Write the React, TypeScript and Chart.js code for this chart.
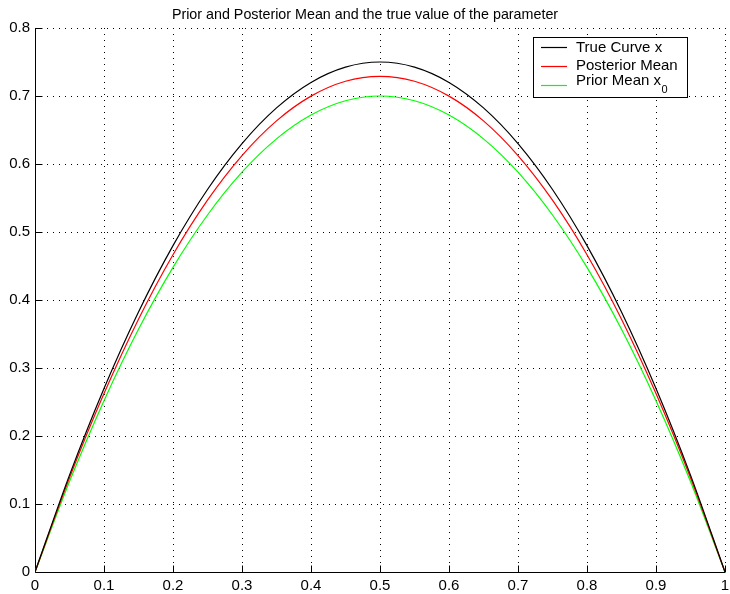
import React, { useEffect, useRef } from "react";
import { Chart, registerables } from "chart.js";

Chart.register(...registerables);

const titleText = "Prior and Posterior Mean and the true value of the parameter";
const xValues = [0, 0.05, 0.1, 0.15, 0.2, 0.25, 0.3, 0.35, 0.4, 0.45, 0.5, 0.55, 0.6, 0.65, 0.7, 0.75, 0.8, 0.85, 0.9, 0.95, 1];
const trueCurve = [0, 0.1425, 0.27, 0.3825, 0.48, 0.5625, 0.63, 0.6825, 0.72, 0.7425, 0.75, 0.7425, 0.72, 0.6825, 0.63, 0.5625, 0.48, 0.3825, 0.27, 0.1425, 0];
const posteriorMean = [0, 0.1385, 0.2624, 0.3718, 0.4666, 0.5468, 0.6124, 0.6634, 0.6998, 0.7217, 0.729, 0.7217, 0.6998, 0.6634, 0.6124, 0.5468, 0.4666, 0.3718, 0.2624, 0.1385, 0];
const priorMean = [0, 0.133, 0.252, 0.357, 0.448, 0.525, 0.588, 0.637, 0.672, 0.693, 0.7, 0.693, 0.672, 0.637, 0.588, 0.525, 0.448, 0.357, 0.252, 0.133, 0];
const xTicks = [0, 0.1, 0.2, 0.3, 0.4, 0.5, 0.6, 0.7, 0.8, 0.9, 1];
const yTicks = [0, 0.1, 0.2, 0.3, 0.4, 0.5, 0.6, 0.7, 0.8];
const legendLabels = ["True Curve x", "Posterior Mean", "Prior Mean x"];
const seriesColors = ["#000000", "#ff0000", "#00ff00"];

const FONT = "'Liberation Sans', Arial, Helvetica, sans-serif";

const matlabPlugin = {
  id: "matlab",
  beforeDatasetsDraw(chart: any) {
    const { ctx, chartArea, scales } = chart;
    const xs = scales.x, ys = scales.y;
    ctx.save();
    ctx.strokeStyle = "#000";
    ctx.lineWidth = 1;
    ctx.setLineDash([1, 5]);
    xTicks.forEach((v) => {
      if (v === 0) return;
      const px = Math.round(xs.getPixelForValue(v)) + 0.5;
      ctx.beginPath();
      ctx.moveTo(px, chartArea.top);
      ctx.lineTo(px, chartArea.bottom);
      ctx.stroke();
    });
    yTicks.forEach((v) => {
      if (v === 0) return;
      const py = Math.round(ys.getPixelForValue(v)) + 0.5;
      ctx.beginPath();
      ctx.moveTo(chartArea.left, py);
      ctx.lineTo(chartArea.right, py);
      ctx.stroke();
    });
    ctx.setLineDash([]);
    const x0 = Math.round(xs.getPixelForValue(0)) + 0.5;
    const y0 = Math.round(ys.getPixelForValue(0)) + 0.5;
    ctx.beginPath();
    ctx.moveTo(x0, chartArea.top);
    ctx.lineTo(x0, y0);
    ctx.lineTo(chartArea.right, y0);
    ctx.stroke();
    xTicks.forEach((v) => {
      const px = Math.round(xs.getPixelForValue(v)) + 0.5;
      ctx.beginPath();
      ctx.moveTo(px, y0);
      ctx.lineTo(px, y0 - 7);
      ctx.stroke();
    });
    yTicks.forEach((v) => {
      const py = Math.round(ys.getPixelForValue(v)) + 0.5;
      ctx.beginPath();
      ctx.moveTo(x0, py);
      ctx.lineTo(x0 + 7, py);
      ctx.stroke();
    });
    ctx.restore();
  },
  afterDraw(chart: any) {
    const { ctx } = chart;
    ctx.save();
    ctx.fillStyle = "#000";
    ctx.font = `14.3px ${FONT}`;
    ctx.textAlign = "center";
    ctx.textBaseline = "alphabetic";
    ctx.fillText(titleText, 365, 18.5);
    const bx = 533.5, by = 37.5, bw = 154, bh = 60;
    ctx.fillStyle = "#fff";
    ctx.fillRect(bx, by, bw, bh);
    ctx.strokeStyle = "#000";
    ctx.lineWidth = 1;
    ctx.strokeRect(bx, by, bw, bh);
    const lineRows = [47.5, 66.5, 85.5];
    const textRows = [52, 69.5, 84.5];
    ctx.textAlign = "left";
    legendLabels.forEach((lab, i) => {
      ctx.strokeStyle = seriesColors[i];
      ctx.lineWidth = 1.2;
      ctx.beginPath();
      ctx.moveTo(541, lineRows[i]);
      ctx.lineTo(567, lineRows[i]);
      ctx.stroke();
      ctx.fillStyle = "#000";
      ctx.font = `15px ${FONT}`;
      ctx.fillText(lab, 576, textRows[i]);
      if (i === 2) {
        const w = ctx.measureText(lab).width;
        ctx.font = `11px ${FONT}`;
        ctx.fillText("0", 576 + w + 0.5, 93);
      }
    });
    ctx.restore();
  },
};

export default function App() {
  const ref = useRef<HTMLCanvasElement>(null);
  useEffect(() => {
    document.body.style.margin = "0";
    const canvas = ref.current!;
    const mk = (d: number[]) => xValues.map((x, i) => ({ x, y: d[i] }));
    const chart = new Chart(canvas, {
      type: "line",
      data: {
        datasets: [
          { label: legendLabels[0], data: mk(trueCurve), borderColor: seriesColors[0], borderWidth: 1.2, pointRadius: 0, cubicInterpolationMode: "monotone" },
          { label: legendLabels[1], data: mk(posteriorMean), borderColor: seriesColors[1], borderWidth: 1.2, pointRadius: 0, cubicInterpolationMode: "monotone" },
          { label: legendLabels[2], data: mk(priorMean), borderColor: seriesColors[2], borderWidth: 1.2, pointRadius: 0, cubicInterpolationMode: "monotone" },
        ],
      },
      options: {
        animation: false,
        responsive: false,
        devicePixelRatio: 1,
        layout: { padding: { top: 28, right: 5, left: 0, bottom: 0 } },
        plugins: { legend: { display: false }, title: { display: false }, tooltip: { enabled: false } },
        scales: {
          x: {
            type: "linear",
            min: 0,
            max: 1,
            grid: { display: false, drawTicks: false },
            border: { display: false },
            afterFit: (s: any) => { s.height = 22; s.paddingLeft = 0; s.paddingRight = 0; },
            afterBuildTicks: (s: any) => { s.ticks = xTicks.map((v) => ({ value: v })); },
            ticks: { color: "#000", font: { family: FONT, size: 15 }, padding: 5, maxRotation: 0, autoSkip: false, callback: (v: any) => String(Number(v)) },
          },
          y: {
            type: "linear",
            min: 0,
            max: 0.8,
            grid: { display: false, drawTicks: false },
            border: { display: false },
            afterFit: (s: any) => { s.width = 35; s.paddingTop = 0; s.paddingBottom = 0; },
            afterBuildTicks: (s: any) => { s.ticks = yTicks.map((v) => ({ value: v })); },
            ticks: { color: "#000", font: { family: FONT, size: 15 }, padding: 5, autoSkip: false, callback: (v: any) => String(Number(v)) },
          },
        },
      } as any,
      plugins: [matlabPlugin],
    });
    return () => chart.destroy();
  }, []);
  return <canvas ref={ref} width={730} height={594} style={{ display: "block", width: 730, height: 594 }} />;
}
